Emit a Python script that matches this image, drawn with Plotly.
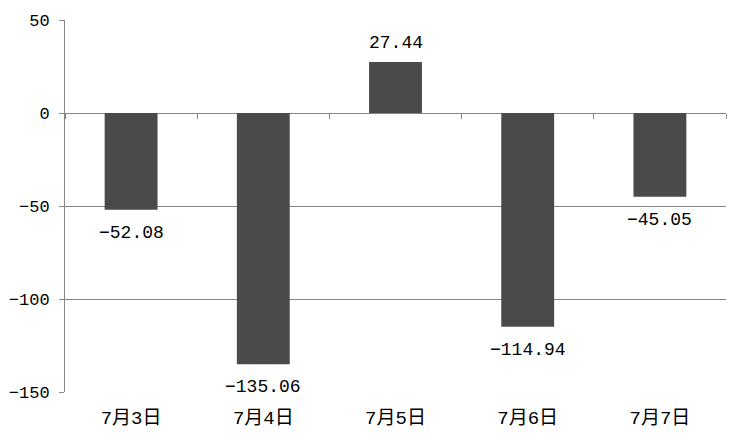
import plotly.graph_objects as go

categories = ["7月3日", "7月4日", "7月5日", "7月6日", "7月7日"]
values = [-52.08, -135.06, 27.44, -114.94, -45.05]
y_ticks = [50, 0, -50, -100, -150]

FONT = "Liberation Mono, Noto Sans CJK SC, monospace"
GRID = "#868686"

fig = go.Figure()
fig.add_trace(go.Bar(
    x=categories, y=values,
    marker=dict(color="#4a4a4a", line=dict(width=0)),
    width=0.4,
    hoverinfo="x+y",
))

for c, v in zip(categories, values):
    fig.add_annotation(
        x=c, y=v, xref="x", yref="y",
        text=f"{v:.2f}".replace("-", "\u2212"),
        showarrow=False,
        yanchor="middle",
        yshift=19 if v >= 0 else -23,
        font=dict(family=FONT, size=18, color="#000000"),
    )

fig.update_layout(
    width=734, height=435,
    margin=dict(l=57, r=16, t=12, b=51),
    paper_bgcolor="white", plot_bgcolor="white",
    showlegend=False,
    font=dict(family=FONT, size=17, color="#000000"),
    bargap=0.6,
    xaxis=dict(
        type="category", automargin=False,
        showgrid=False, showline=False, ticks="",
        tickfont=dict(family=FONT, size=19),
        ticklabelstandoff=12,
    ),
    xaxis2=dict(
        type="category", matches="x", overlaying="x",
        anchor="free", position=0.75, automargin=False,
        showgrid=False, showline=False, showticklabels=False,
        ticks="outside", ticklen=5, tickcolor=GRID, tickwidth=1,
        tickson="boundaries",
    ),
    yaxis=dict(
        range=[-150, 50], tickvals=y_ticks, automargin=False,
        showgrid=True, gridcolor=GRID, gridwidth=1,
        zeroline=True, zerolinecolor=GRID, zerolinewidth=1,
        showline=True, linecolor=GRID, linewidth=1,
        ticks="outside", ticklen=5, tickcolor=GRID,
        tickfont=dict(family=FONT, size=17),
        ticklabelstandoff=6,
    ),
)
fig.add_trace(go.Bar(x=categories, y=[None] * len(categories), xaxis="x2",
                     showlegend=False, hoverinfo="skip"))

fig.write_html("out.html")
